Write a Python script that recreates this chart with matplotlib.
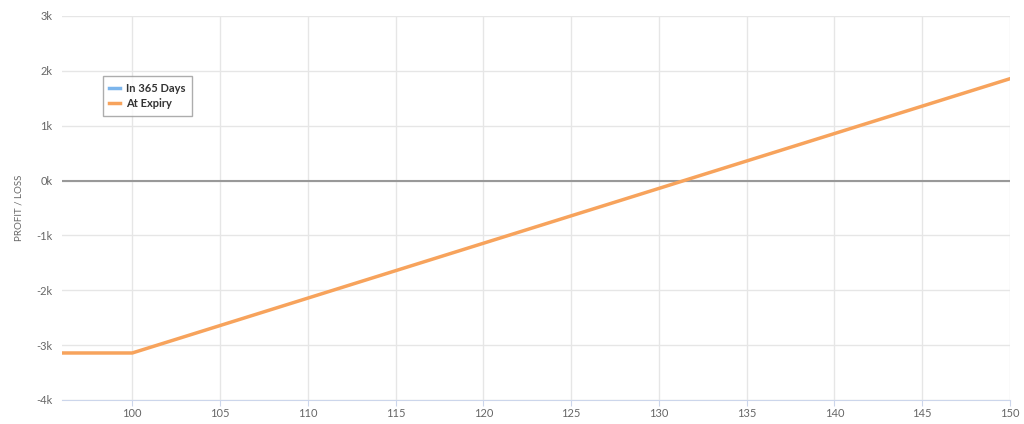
import matplotlib
matplotlib.use("Agg")
import matplotlib.pyplot as plt
from matplotlib.lines import Line2D

prices = [96, 100, 150]
at_expiry = [-3143, -3143, 1857]
x_ticks = [100, 105, 110, 115, 120, 125, 130, 135, 140, 145, 150]
y_ticks = [-4000, -3000, -2000, -1000, 0, 1000, 2000, 3000]
y_labels = ["-4k", "-3k", "-2k", "-1k", "0k", "1k", "2k", "3k"]
series_names = ["In 365 Days", "At Expiry"]
series_colors = ["#7cb5ec", "#f7a35c"]

plt.rcParams['font.family'] = ['Lato', 'DejaVu Sans']

fig = plt.figure(figsize=(10.24, 4.24), dpi=100)
ax = fig.add_axes([62/1024, 24/424, 948/1024, 384/424])

ax.set_xlim(96, 150)
ax.set_ylim(-4000, 3000)
ax.set_xticks(x_ticks)
ax.set_yticks(y_ticks)
ax.set_yticklabels(y_labels)
ax.grid(True, color="#e6e6e6", linewidth=1)
ax.set_axisbelow(True)
for s in ["top", "right", "left"]:
    ax.spines[s].set_visible(False)
ax.spines["bottom"].set_color("#ccd6eb")
ax.tick_params(axis="y", length=0, labelsize=8, colors="#666666", pad=7)
ax.tick_params(axis="x", length=4, color="#ccd6eb", labelsize=8, labelcolor="#666666", pad=1.5)

ax.axhline(0, color="#999999", linewidth=1.5, zorder=2)
ax.plot(prices, at_expiry, color=series_colors[1], linewidth=2.5, zorder=3)

ax.set_ylabel("PROFIT / LOSS", fontsize=7, color="#666666", labelpad=9)

handles = [Line2D([], [], color=c, linewidth=2.5) for c in series_colors]
leg = ax.legend(handles, series_names, loc="upper left", bbox_to_anchor=(0.037, 0.858),
                fontsize=8, frameon=True, fancybox=False, edgecolor="#999999",
                handlelength=1.0, borderpad=0.6, labelspacing=0.4, handletextpad=0.5)
leg.get_frame().set_linewidth(1)
for t in leg.get_texts():
    t.set_color("#333333")
    t.set_fontweight("bold")

fig.savefig("out.png", dpi=100, facecolor="white")
